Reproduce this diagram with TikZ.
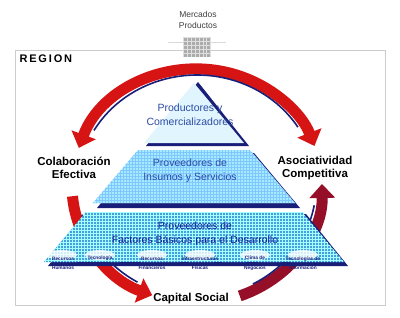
\documentclass[tikz,border=0pt]{standalone}
\usepackage{fontspec}
\setmainfont{Liberation Sans}
\usetikzlibrary{arrows.meta,patterns}
\definecolor{navy}{RGB}{25,30,120}
\definecolor{tierblue}{RGB}{45,75,165}
\definecolor{arcred}{RGB}{215,20,20}
\definecolor{arcdark}{RGB}{150,15,40}
\begin{document}
\begin{tikzpicture}[x=1pt,y=-1pt,
  redarc/.style={line width=11pt,draw=arcred},
  tipend/.style={-{Triangle[length=14pt,width=25pt]}},
  navyarc/.style={line width=1.6pt,draw=navy},
  bold/.style={font=\bfseries\fontsize{11.5}{13}\selectfont,align=center,text=black},
  tiertext/.style={font=\fontsize{10.5}{14}\selectfont,align=center,text=tierblue},
  itemtext/.style={font=\bfseries\fontsize{4.8}{9.5}\selectfont,align=center,text=navy,inner sep=0pt},
  shadowfill/.style={fill=navy}]
\useasboundingbox (0,0) rectangle (400,317);
\fill[white] (0,0) rectangle (400,317);
% frame
\draw[gray!40,line width=0.9pt] (15,50) rectangle (385,305);
\draw[gray!30,line width=1pt] (168,42) -- (226,42);
\fill[gray!25] (183,37) rectangle (211,57);
\foreach \i in {0,...,6}{\foreach \j in {0,...,4}{
  \fill[gray!65] (184+\i*3.9,38+\j*3.9) rectangle ++(2.9,2.9);}}
\node[font=\fontsize{8.5}{11}\selectfont,align=center,text=black!75] (mp) at (198,20) {Mercados\\Productos};
\node[anchor=west,font=\bfseries\fontsize{11}{12}\selectfont] (reg) at (16,59) {R\,E\,G\,I\,O\,N};
% arcs
\coordinate (c) at (197,186);
\draw[redarc,{Triangle[length=14pt,width=25pt]}-{Triangle[length=14pt,width=25pt]}] (c) ++(-161:125 and 117) arc[start angle=-161,end angle=-20,x radius=125,y radius=117];
\draw[navyarc] (c) ++(-150:119 and 111) arc[start angle=-150,end angle=-32,x radius=119,y radius=111];
\draw[redarc,tipend] (c) ++(-185:125 and 117) arc[start angle=-185,end angle=-249,x radius=125,y radius=117];
\draw[navyarc] (c) ++(-195:119 and 111) arc[start angle=-195,end angle=-240,x radius=119,y radius=111];
\draw[redarc,draw=arcdark,tipend] (c) ++(70:125 and 117) arc[start angle=70,end angle=-1,x radius=125,y radius=117];
\draw[navyarc] (c) ++(62:119 and 111) arc[start angle=62,end angle=10,x radius=119,y radius=111];
% pyramid tiers
\fill[shadowfill] (198,82) -- (249,146) -- (146,146) -- cycle;
\fill[cyan!12] (194,83) -- (244,143) -- (144,143) -- cycle;
\fill[shadowfill] (142,153) -- (254,153) -- (300,208) -- (97,208) -- cycle;
\fill[blue!22!cyan!35] (138,150) -- (250,150) -- (295,203) -- (93,203) -- cycle;
\fill[pattern=grid,pattern color=blue!45!cyan!50] (138,150) -- (250,150) -- (295,203) -- (93,203) -- cycle;
\fill[shadowfill] (90,214) -- (306,214) -- (348,266) -- (48,266) -- cycle;
\fill[cyan!70!blue!75] (86,212) -- (302,212) -- (344,262) -- (44,262) -- cycle;
\fill[pattern=grid,pattern color=cyan!35] (86,212) -- (302,212) -- (344,262) -- (44,262) -- cycle;
\node[tiertext] (t1) at (190,115) {Productores y\\Comercializadores};
\node[tiertext] (t2) at (190,171) {Proveedores de\\Insumos y Servicios};
\node[tiertext,text=navy!80!blue] (t3) at (195,234) {Proveedores de\\Factores Básicos para el Desarrollo};
% items
\foreach \x in {62,100,152,200,255,303}{
  \fill[white,opacity=0.8] (\x,255) ellipse (15 and 5);
}
\foreach \a/\b in {78/110,120/140,180/188,214/222,246/258,282/290}{
  \fill[navy] (\a,262) rectangle (\b,265);
}
\node[itemtext] (i1) at (63,263.5) {Recursos\\Humanos};
\node[itemtext] (i2) at (100,258.5) {Tecnología};
\node[itemtext] (i3) at (152,263.5) {Recursos\\Financieros};
\node[itemtext] (i4) at (200,263.5) {Infraestructuras\\Físicas};
\node[itemtext] (i5) at (255,263.5) {Clima de\\Negocios};
\node[itemtext] (i6) at (303,263.5) {Tecnologías de\\Información};
% labels
\node[bold] (ce) at (74,168) {Colaboración\\Efectiva};
\node[bold] (ac) at (315,168) {Asociatividad\\Competitiva};
\node[bold] (cs) at (191,299) {Capital Social};
\end{tikzpicture}
\end{document}
